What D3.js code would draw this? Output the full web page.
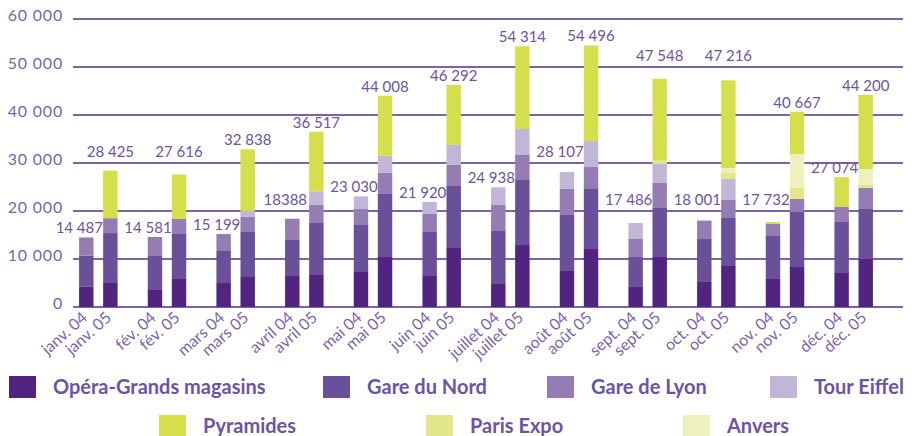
<!DOCTYPE html>
<html>
<head>
<meta charset="utf-8">
<script src="https://cdn.jsdelivr.net/npm/d3@7"></script>
<style>
  body { margin: 0; background: #fff; }
  svg { display: block; font-family: Lato, "Open Sans", sans-serif; }
</style>
</head>
<body>
<svg id="chart" width="912" height="436"></svg>
<script>
// one bar per month and year, 2004 then 2005
const barLabels = ["janv. 04", "janv. 05", "fév. 04", "fév. 05", "mars 04", "mars 05",
  "avril 04", "avril 05", "mai 04", "mai 05", "juin 04", "juin 05",
  "juillet 04", "juillet 05", "août 04", "août 05", "sept. 04", "sept. 05",
  "oct. 04", "oct. 05", "nov. 04", "nov. 05", "déc. 04", "déc. 05"];
const totalLabels = ["14 487", "28 425", "14 581", "27 616", "15 199", "32 838",
  "18388", "36 517", "23 030", "44 008", "21 920", "46 292",
  "24 938", "54 314", "28 107", "54 496", "17 486", "47 548",
  "18 001", "47 216", "17 732", "40 667", "27 074", "44 200"];

const opera     = [4200, 5000, 3540, 5830, 5000, 6250, 6460, 6670, 7290, 10420, 6460, 12290,
                   4790, 12920, 7500, 12080, 4170, 10420, 5210, 8540, 5830, 8330, 7080, 10000];
const gareNord  = [6500, 10400, 7080, 9380, 6670, 9380, 7500, 10830, 9790, 13130, 9170, 12920,
                   11040, 13540, 11670, 12500, 6250, 10210, 8960, 10000, 8960, 11460, 10625, 10420];
const gareLyon  = [3787, 3100, 3961, 3120, 3529, 3130, 4428, 3750, 3330, 4380, 3750, 4380,
                   5420, 5210, 5420, 4580, 3750, 5210, 3831, 3750, 2500, 2710, 3125, 4375];
const tourEiffel = [0, 0, 0, 0, 0, 1250, 0, 2850, 2620, 3600, 2540, 4170,
                    3688, 5420, 3517, 5420, 3316, 3960, 0, 4375, 0, 0, 0, 0];
const parisExpo = [0, 0, 0, 0, 0, 0, 0, 0, 0, 0, 0, 0,
                   0, 0, 0, 0, 0, 830, 0, 1250, 0, 2290, 0, 625];
const anvers    = [0, 0, 0, 0, 0, 0, 0, 0, 0, 0, 0, 0,
                   0, 0, 0, 0, 0, 0, 0, 1040, 0, 7080, 0, 3330];
const pyramides = [0, 9925, 0, 9286, 0, 12828, 0, 12417, 0, 12478, 0, 12532,
                   0, 17224, 0, 19916, 0, 16918, 0, 18261, 442, 8797, 6244, 15450];

const yTicks = [0, 10000, 20000, 30000, 40000, 50000, 60000];

// stacking order bottom -> top
const series = [
  { name: "Opéra-Grands magasins", values: opera, color: "#51247f" },
  { name: "Gare du Nord", values: gareNord, color: "#6a4f99" },
  { name: "Gare de Lyon", values: gareLyon, color: "#957db4" },
  { name: "Tour Eiffel", values: tourEiffel, color: "#c2b6d7" },
  { name: "Paris Expo", values: parisExpo, color: "#e1e78a" },
  { name: "Anvers", values: anvers, color: "#ecf1bd" },
  { name: "Pyramides", values: pyramides, color: "#d4df4b" }
];
const legendOrder = ["Opéra-Grands magasins", "Gare du Nord", "Gare de Lyon", "Tour Eiffel",
  "Pyramides", "Paris Expo", "Anvers"];

const svg = d3.select("#chart");
const gridLeft = 73, gridRight = 903;
const textColor = "#6d54a2";

const rows = barLabels.map((lab, i) => {
  const r = { label: lab, month: Math.floor(i / 2), year: i % 2 };
  series.forEach(s => r[s.name] = s.values[i]);
  return r;
});

const x0 = d3.scaleBand().domain(d3.range(12)).range([64, 888]);
const x1 = d3.scaleBand().domain([0, 1])
  .range([x0.bandwidth() / 2 - 19.25, x0.bandwidth() / 2 + 19.25])
  .paddingInner(0.4);
const barX = d => x0(d.month) + x1(d.year);
const barC = d => barX(d) + x1.bandwidth() / 2;

const y = d3.scaleLinear().domain([0, 60000]).range([307, 19]);

// gridlines
svg.append("g")
  .selectAll("line")
  .data(yTicks)
  .join("line")
  .attr("x1", gridLeft)
  .attr("x2", gridRight)
  .attr("y1", d => y(d))
  .attr("y2", d => y(d))
  .attr("stroke", "#7c62a8")
  .attr("stroke-width", 2);

svg.append("g")
  .selectAll("text")
  .data(yTicks)
  .join("text")
  .attr("x", 63)
  .attr("y", d => y(d) + 2)
  .attr("text-anchor", "end")
  .attr("font-size", 16)
  .attr("letter-spacing", 0.8)
  .attr("fill", "#7a62aa")
  .text(d => d3.format(",")(d).replace(/,/g, " "));

// stacked bars
const stack = d3.stack().keys(series.map(s => s.name));
const layers = stack(rows);

svg.append("g")
  .selectAll("g")
  .data(layers)
  .join("g")
  .attr("fill", (d, i) => series[i].color)
  .selectAll("rect")
  .data(d => d.filter(p => p[1] > p[0]))
  .join("rect")
  .attr("x", p => barX(p.data))
  .attr("width", x1.bandwidth())
  .attr("y", p => y(p[1]))
  .attr("height", p => y(p[0]) - y(p[1]));

// total labels: sit just above the bar, pushed above a gridline if they'd cross it
function labelY(i) {
  let base = y(d3.sum(series, s => s.values[i])) - 4;
  const hit = yTicks.map(y).find(g => g > base - 10 && g < base + 3);
  if (hit !== undefined) base = hit - 6;
  return base;
}

svg.append("g")
  .selectAll("text")
  .data(rows)
  .join("text")
  .attr("x", d => barC(d) + (d.year === 0 ? -7 : 0))
  .attr("y", (d, i) => labelY(i))
  .attr("text-anchor", "middle")
  .attr("font-size", 15)
  .attr("fill", textColor)
  .text((d, i) => totalLabels[i]);

// x labels
svg.append("g")
  .selectAll("text")
  .data(rows)
  .join("text")
  .attr("transform", d => `translate(${barC(d) + 2},${319}) rotate(-42)`)
  .attr("text-anchor", "end")
  .attr("font-size", 16)
  .attr("fill", "#7d63ad")
  .text(d => d.label);

// legend
const legendPos = [[9, 376], [323, 376], [547, 376], [770, 376], [159, 415], [426, 415], [683, 415]];
const lg = svg.append("g")
  .selectAll("g")
  .data(legendOrder)
  .join("g")
  .attr("transform", (d, i) => `translate(${legendPos[i][0]},${legendPos[i][1]})`);
lg.append("rect")
  .attr("width", 27)
  .attr("height", 22)
  .attr("fill", d => series.find(s => s.name === d).color);
lg.append("text")
  .attr("x", 44)
  .attr("y", 18)
  .attr("font-size", 20)
  .attr("font-weight", "bold")
  .attr("fill", textColor)
  .text(d => d);
</script>
</body>
</html>
